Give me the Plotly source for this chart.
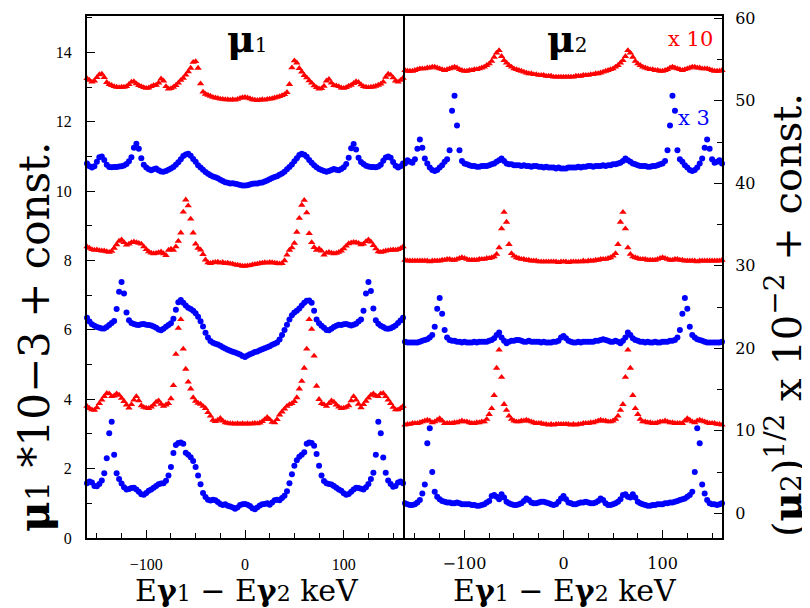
import plotly.graph_objects as go

# ---------------- data ----------------
energy_neg = [-160, -157.5, -155, -152.5, -150, -147.5, -145, -142.5, -140, -137.5,
              -135, -132.5, -130, -127.5, -125, -122.5, -120, -117.5, -115, -112.5,
              -110, -107.5, -105, -102.5, -100, -97.5, -95, -92.5, -90, -87.5,
              -85, -82.5, -80, -77.5, -75, -72.5, -70, -67.5, -65, -62.5,
              -60, -57.5, -55, -52.5, -50, -47.5, -45, -42.5, -40, -37.5,
              -35, -32.5, -30, -27.5, -25, -22.5, -20, -17.5, -15, -12.5,
              -10, -7.5, -5, -2.5, 0]
energy_pos = [2.5, 5, 7.5, 10, 12.5, 15, 17.5, 20, 22.5, 25,
              27.5, 30, 32.5, 35, 37.5, 40, 42.5, 45, 47.5, 50,
              52.5, 55, 57.5, 60, 62.5, 65, 67.5, 70, 72.5, 75,
              77.5, 80, 82.5, 85, 87.5, 90, 92.5, 95, 97.5, 100,
              102.5, 105, 107.5, 110, 112.5, 115, 117.5, 120, 122.5, 125,
              127.5, 130, 132.5, 135, 137.5, 140, 142.5, 145, 147.5, 150,
              152.5, 155, 157.5, 160]
energy = energy_neg + energy_pos

# ---- left panel (mu1 * 10^-3 + const.) ----
mu1_red_top = [13.25, 13.20, 13.15, 13.18, 13.28, 13.36, 13.38, 13.28, 13.14, 13.08,
               13.05, 13.02, 13.00, 12.99, 13.00, 13.00, 13.02, 13.08, 13.15, 13.16,
               13.10, 13.05, 13.02, 12.99, 12.97, 12.98, 13.02, 13.05, 13.06, 13.12,
               13.24, 13.18, 13.02, 12.95, 12.96, 13.00, 13.05, 13.12, 13.20, 13.26,
               13.35, 13.45, 13.55, 13.72, 13.74, 13.55, 13.10, 12.86, 12.80, 12.77,
               12.74, 12.71, 12.69, 12.68, 12.66, 12.65, 12.64, 12.64, 12.63, 12.64,
               12.63, 12.65, 12.68, 12.70, 12.71,
               12.69, 12.67, 12.64, 12.63, 12.62, 12.63, 12.64, 12.63, 12.65, 12.66,
               12.67, 12.69, 12.71, 12.73, 12.76, 12.79, 12.85, 13.08, 13.56, 13.76,
               13.70, 13.54, 13.44, 13.34, 13.27, 13.19, 13.12, 13.04, 12.99, 12.95,
               12.96, 13.03, 13.18, 13.23, 13.12, 13.05, 13.04, 13.02, 12.98, 12.97,
               12.99, 13.03, 13.06, 13.11, 13.16, 13.14, 13.07, 13.02, 13.00, 12.99,
               13.00, 13.01, 13.03, 13.06, 13.09, 13.15, 13.29, 13.38, 13.35, 13.27,
               13.18, 13.15, 13.20, 13.26]
mu1_blue_top = [10.80, 10.72, 10.68, 10.72, 10.85, 10.98, 11.00, 10.90, 10.76, 10.70,
                10.69, 10.70, 10.70, 10.71, 10.72, 10.74, 10.78, 10.86, 10.98, 11.25,
                11.37, 11.22, 10.95, 10.76, 10.68, 10.63, 10.60, 10.63, 10.65, 10.60,
                10.57, 10.56, 10.58, 10.62, 10.65, 10.70, 10.76, 10.83, 10.92, 11.01,
                11.06, 11.08, 11.02, 10.93, 10.85, 10.75, 10.68, 10.62, 10.55, 10.50,
                10.46, 10.42, 10.40, 10.37, 10.33, 10.29, 10.26, 10.24, 10.22, 10.23,
                10.21, 10.20, 10.18, 10.16, 10.16,
                10.17, 10.19, 10.21, 10.22, 10.22, 10.24, 10.25, 10.28, 10.31, 10.34,
                10.38, 10.41, 10.43, 10.47, 10.51, 10.56, 10.63, 10.70, 10.77, 10.86,
                10.95, 11.04, 11.08, 11.05, 10.99, 10.90, 10.82, 10.75, 10.69, 10.64,
                10.61, 10.58, 10.56, 10.58, 10.61, 10.64, 10.62, 10.60, 10.64, 10.69,
                10.78, 10.96, 11.24, 11.36, 11.20, 10.96, 10.84, 10.78, 10.73, 10.71,
                10.70, 10.70, 10.69, 10.71, 10.76, 10.88, 10.97, 11.00, 10.96, 10.84,
                10.73, 10.68, 10.72, 10.80]
mu1_red_mid = [8.40, 8.36, 8.32, 8.30, 8.31, 8.29, 8.28, 8.28, 8.26, 8.24,
               8.27, 8.36, 8.46, 8.56, 8.60, 8.52, 8.45, 8.48, 8.52, 8.54,
               8.52, 8.50, 8.48, 8.40, 8.32, 8.26, 8.22, 8.20, 8.21, 8.23,
               8.25, 8.20, 8.15, 8.30, 8.33, 8.30, 8.40, 8.56, 8.80, 9.40,
               9.75, 9.58, 9.20, 8.80, 8.48, 8.36, 8.31, 8.18, 8.02, 7.94,
               7.92, 7.94, 7.95, 7.96, 7.93, 7.95, 7.92, 7.93, 7.91, 7.90,
               7.88, 7.87, 7.86, 7.84, 7.84,
               7.85, 7.86, 7.88, 7.89, 7.90, 7.92, 7.93, 7.94, 7.93, 7.95,
               7.94, 7.93, 7.92, 7.91, 7.92, 8.00, 8.16, 8.30, 8.37, 8.50,
               8.82, 9.22, 9.60, 9.74, 9.38, 8.78, 8.52, 8.38, 8.30, 8.34,
               8.28, 8.16, 8.22, 8.24, 8.22, 8.20, 8.21, 8.24, 8.28, 8.34,
               8.42, 8.49, 8.51, 8.53, 8.52, 8.50, 8.46, 8.48, 8.55, 8.60,
               8.54, 8.44, 8.34, 8.26, 8.24, 8.26, 8.28, 8.29, 8.30, 8.31,
               8.30, 8.32, 8.35, 8.40]
mu1_blue_mid = [6.35, 6.24, 6.16, 6.12, 6.08, 6.06, 6.04, 6.04, 6.08, 6.14,
                6.20, 6.26, 6.60, 7.10, 7.38, 7.05, 6.50, 6.28, 6.20, 6.17,
                6.15, 6.14, 6.16, 6.17, 6.15, 6.14, 6.13, 6.10, 6.06, 6.01,
                5.99, 6.03, 6.09, 6.14, 6.19, 6.32, 6.58, 6.80, 6.86, 6.78,
                6.70, 6.64, 6.60, 6.55, 6.48, 6.38, 6.25, 6.10, 5.92, 5.78,
                5.68, 5.63, 5.60, 5.58, 5.54, 5.50, 5.46, 5.43, 5.40, 5.37,
                5.35, 5.32, 5.29, 5.25, 5.22,
                5.26, 5.30, 5.33, 5.36, 5.38, 5.41, 5.44, 5.47, 5.50, 5.53,
                5.57, 5.60, 5.64, 5.72, 5.85, 6.00, 6.15, 6.30, 6.42, 6.50,
                6.55, 6.62, 6.70, 6.78, 6.84, 6.85, 6.78, 6.55, 6.30, 6.19,
                6.12, 6.06, 6.00, 5.99, 6.03, 6.08, 6.12, 6.15, 6.14, 6.16,
                6.17, 6.15, 6.13, 6.15, 6.18, 6.24, 6.30, 6.55, 7.05, 7.38,
                7.12, 6.62, 6.28, 6.18, 6.12, 6.08, 6.04, 6.03, 6.05, 6.08,
                6.13, 6.20, 6.27, 6.35]
mu1_red_low = [3.80, 3.74, 3.70, 3.69, 3.76, 3.88, 3.98, 4.08, 4.17, 4.16,
               4.08, 4.10, 4.16, 4.12, 4.03, 3.94, 3.84, 3.75, 3.85, 3.98,
               4.08, 3.96, 3.82, 3.77, 3.75, 3.74, 3.78, 3.84, 3.92, 3.96,
               3.86, 3.80, 3.84, 3.88, 4.02, 4.40, 5.30, 6.05, 6.30, 5.45,
               4.87, 4.50, 4.30, 4.05, 3.95, 3.89, 3.86, 3.80, 3.74, 3.62,
               3.52, 3.40, 3.36, 3.40, 3.45, 3.38, 3.33, 3.31, 3.30, 3.30,
               3.29, 3.30, 3.29, 3.30, 3.29,
               3.30, 3.29, 3.30, 3.31, 3.30, 3.32, 3.36, 3.42, 3.48, 3.42,
               3.34, 3.33, 3.42, 3.55, 3.64, 3.72, 3.80, 3.85, 3.88, 3.94,
               4.05, 4.30, 4.52, 4.90, 5.45, 6.30, 6.02, 5.25, 4.38, 4.00,
               3.88, 3.85, 3.80, 3.88, 3.96, 3.92, 3.84, 3.78, 3.74, 3.75,
               3.77, 3.82, 3.96, 4.08, 3.98, 3.86, 3.76, 3.85, 3.95, 4.04,
               4.12, 4.16, 4.10, 4.08, 4.16, 4.17, 4.08, 3.98, 3.88, 3.77,
               3.70, 3.70, 3.74, 3.80]
mu1_blue_low = [1.58, 1.63, 1.60, 1.50, 1.49, 1.56, 1.66, 1.87, 2.30, 3.02,
                3.35, 2.40, 1.87, 1.70, 1.57, 1.46, 1.40, 1.41, 1.44, 1.45,
                1.40, 1.33, 1.26, 1.25, 1.30, 1.36, 1.40, 1.45, 1.50, 1.55,
                1.57, 1.58, 1.65, 1.80, 2.05, 2.45, 2.68, 2.74, 2.75, 2.72,
                2.46, 2.40, 2.33, 2.22, 2.05, 1.80, 1.55, 1.30, 1.18, 1.10,
                1.08, 1.10, 1.09, 1.04, 0.98, 0.95, 0.97, 0.93, 0.91, 0.88,
                0.84, 0.88, 0.95, 0.97, 0.98,
                0.96, 0.92, 0.86, 0.83, 0.88, 0.94, 0.97, 0.98, 1.00, 0.96,
                1.02, 1.09, 1.10, 1.09, 1.15, 1.22, 1.35, 1.58, 1.84, 2.08,
                2.24, 2.34, 2.40, 2.47, 2.72, 2.75, 2.74, 2.66, 2.42, 2.08,
                1.80, 1.64, 1.58, 1.56, 1.54, 1.50, 1.45, 1.40, 1.36, 1.29,
                1.25, 1.27, 1.33, 1.40, 1.45, 1.44, 1.42, 1.40, 1.46, 1.56,
                1.70, 1.88, 2.40, 3.35, 3.02, 2.32, 1.88, 1.66, 1.56, 1.48,
                1.50, 1.60, 1.63, 1.58]

# ---- right panel ((mu2)^1/2 x 10^-2 + const.) ----
mu2_red_top = [53.7, 53.6, 53.6, 53.6, 53.7, 53.8, 53.9, 53.9, 53.9, 54.0,
               54.0, 54.1, 54.1, 54.0, 53.9, 53.8, 53.7, 53.8, 53.9, 54.0,
               54.1, 54.0, 53.8, 53.7, 53.6, 53.6, 53.7, 53.7, 53.8, 53.8,
               53.9, 54.0, 54.1, 54.3, 54.5, 54.8, 55.3, 55.8, 56.1, 55.4,
               54.9, 54.6, 54.3, 54.1, 53.9, 53.8, 53.7, 53.6, 53.5, 53.4,
               53.3, 53.3, 53.2, 53.2, 53.1, 53.1, 53.1, 53.0, 53.0, 53.0,
               52.9, 52.9, 52.9, 52.9, 52.9,
               52.9, 52.9, 52.9, 52.9, 53.0, 53.0, 53.0, 53.1, 53.1, 53.1,
               53.2, 53.2, 53.3, 53.3, 53.4, 53.5, 53.6, 53.7, 53.8, 53.9,
               54.1, 54.3, 54.6, 54.9, 55.4, 56.1, 55.8, 55.3, 54.8, 54.5,
               54.3, 54.1, 54.0, 53.9, 53.8, 53.8, 53.7, 53.7, 53.6, 53.6,
               53.7, 53.8, 54.0, 54.1, 54.0, 53.9, 53.8, 53.7, 53.8, 53.9,
               54.0, 54.1, 54.1, 54.0, 54.0, 53.9, 53.9, 53.9, 53.8, 53.7,
               53.6, 53.6, 53.6, 53.7]
mu2_blue_top = [42.4, 42.8, 42.6, 42.5, 42.9, 44.2, 45.3, 44.3, 43.0, 42.4,
                41.9, 41.6, 41.5, 41.6, 41.9, 42.2, 42.6, 42.9, 44.0, 48.8,
                50.6, 47.0, 44.0, 42.7, 42.4, 42.3, 42.2, 42.1, 42.1, 42.0,
                42.0, 42.1, 42.1, 42.1, 42.2, 42.3, 42.4, 42.6, 42.8, 43.0,
                42.7, 42.4, 42.3, 42.3, 42.2, 42.2, 42.2, 42.1, 42.2, 42.1,
                42.1, 42.0, 42.1, 42.1, 42.0, 42.0, 41.9, 42.0, 41.9, 41.9,
                41.9, 41.8, 41.9, 41.8, 41.8,
                41.8, 41.9, 41.9, 41.9, 41.9, 42.0, 41.9, 42.0, 42.0, 42.1,
                42.1, 42.0, 42.1, 42.1, 42.1, 42.2, 42.1, 42.2, 42.2, 42.3,
                42.3, 42.4, 42.5, 42.7, 43.0, 42.8, 42.6, 42.4, 42.3, 42.2,
                42.1, 42.1, 42.1, 42.0, 42.0, 42.1, 42.1, 42.2, 42.3, 42.4,
                42.7, 44.0, 47.0, 50.6, 48.8, 44.0, 42.9, 42.6, 42.2, 41.9,
                41.6, 41.5, 41.6, 41.9, 42.4, 43.0, 44.3, 45.3, 44.2, 42.9,
                42.5, 42.6, 42.8, 42.4]
mu2_red_mid = [30.7, 30.6, 30.6, 30.6, 30.6, 30.6, 30.6, 30.6, 30.6, 30.6,
               30.5, 30.6, 30.6, 30.6, 30.6, 30.7, 30.7, 30.8, 30.8, 30.7,
               30.7, 30.8, 30.9, 31.0, 30.9, 30.8, 30.7, 30.7, 30.7, 30.7,
               30.8, 30.8, 30.8, 30.9, 30.9, 31.0, 31.1, 31.4, 32.2, 34.5,
               36.5, 35.3, 32.6, 31.5, 31.2, 31.0, 30.9, 30.8, 30.8, 30.7,
               30.7, 30.6, 30.6, 30.6, 30.5, 30.5, 30.5, 30.5, 30.5, 30.5,
               30.5, 30.5, 30.4, 30.5, 30.5,
               30.5, 30.4, 30.5, 30.5, 30.5, 30.5, 30.5, 30.6, 30.5, 30.6,
               30.6, 30.6, 30.7, 30.7, 30.8, 30.8, 30.8, 30.9, 31.0, 31.2,
               31.5, 32.6, 35.3, 36.5, 34.5, 32.2, 31.4, 31.1, 31.0, 30.9,
               30.8, 30.8, 30.8, 30.7, 30.7, 30.7, 30.7, 30.8, 30.9, 31.0,
               30.9, 30.8, 30.7, 30.7, 30.8, 30.8, 30.7, 30.7, 30.6, 30.6,
               30.6, 30.6, 30.6, 30.5, 30.6, 30.6, 30.6, 30.6, 30.6, 30.6,
               30.6, 30.6, 30.6, 30.7]
mu2_blue_mid = [20.8, 20.7, 20.7, 20.7, 20.7, 20.7, 20.8, 20.9, 21.0, 21.1,
                21.3, 21.6, 22.6, 24.8, 26.1, 24.2, 22.2, 21.3, 21.0, 20.9,
                20.9, 20.8, 20.8, 20.7, 20.8, 20.7, 20.7, 20.7, 20.8, 20.7,
                20.8, 20.8, 20.8, 20.8, 20.9, 21.0, 21.2, 21.6, 21.9, 21.3,
                20.9, 20.6, 20.8, 20.9, 20.9, 21.0, 21.0, 20.9, 20.8, 20.8,
                20.9, 20.8, 20.8, 20.8, 20.8, 20.7, 20.8, 20.7, 20.7, 20.7,
                20.8, 20.8, 20.9, 21.3, 21.5,
                21.2, 20.9, 20.8, 20.7, 20.7, 20.8, 20.7, 20.8, 20.8, 20.8,
                20.8, 20.8, 20.9, 20.9, 21.0, 21.1, 21.0, 20.9, 20.8, 20.8,
                20.9, 20.8, 20.6, 20.9, 21.3, 21.9, 21.6, 21.2, 21.0, 20.9,
                20.8, 20.8, 20.7, 20.8, 20.7, 20.7, 20.8, 20.7, 20.7, 20.8,
                20.8, 20.8, 20.9, 20.9, 21.0, 21.3, 22.2, 24.2, 26.1, 24.8,
                22.6, 21.6, 21.3, 21.1, 21.0, 20.9, 20.8, 20.7, 20.7, 20.7,
                20.7, 20.7, 20.7, 20.8]
mu2_red_low = [10.7, 10.8, 10.8, 10.9, 10.9, 10.9, 11.0, 11.1, 11.2, 11.3,
               11.2, 11.0, 11.1, 11.3, 11.5, 11.2, 10.9, 10.9, 10.9, 10.9,
               11.0, 11.0, 11.1, 11.2, 11.1, 11.1, 11.0, 10.9, 10.9, 11.0,
               11.0, 11.1, 11.1, 11.4, 12.0, 12.7, 14.3, 17.6, 19.8, 16.5,
               13.2, 12.5, 11.8, 11.4, 11.2, 11.1, 11.1, 11.2, 11.2, 11.3,
               11.2, 11.1, 11.0, 10.9, 10.9, 10.9, 10.8, 10.8, 10.7, 10.8,
               10.7, 10.8, 10.8, 10.8, 10.8,
               10.8, 10.8, 10.7, 10.8, 10.7, 10.8, 10.8, 10.9, 10.9, 10.9,
               11.0, 11.0, 11.1, 11.2, 11.3, 11.2, 11.2, 11.1, 11.1, 11.2,
               11.4, 11.8, 12.5, 13.2, 16.5, 19.8, 17.6, 14.3, 12.7, 12.0,
               11.4, 11.1, 11.1, 11.0, 11.0, 10.9, 10.9, 11.0, 11.1, 11.1,
               11.2, 11.1, 11.0, 11.0, 10.9, 10.9, 10.9, 10.9, 11.2, 11.5,
               11.3, 11.1, 11.0, 11.2, 11.3, 11.2, 11.1, 11.0, 10.9, 10.9,
               10.9, 10.8, 10.8, 10.7]
mu2_blue_low = [1.2, 1.1, 1.0, 1.0, 1.1, 1.3, 1.6, 2.4, 3.5, 8.5,
                10.3, 5.0, 2.6, 2.0, 1.7, 1.5, 1.4, 1.3, 1.3, 1.2,
                1.2, 1.3, 1.2, 1.1, 1.1, 1.1, 1.1, 1.0, 1.0, 0.9,
                0.9, 1.0, 1.1, 1.3, 1.5, 2.1, 2.2, 2.0, 1.7, 2.3,
                1.9, 1.4, 1.2, 1.1, 1.0, 1.0, 1.1, 1.2, 1.5, 1.8,
                1.6, 1.3, 1.2, 1.2, 1.3, 1.4, 1.4, 1.3, 1.2, 1.1,
                1.0, 1.1, 1.4, 1.8, 2.1,
                1.7, 1.3, 1.2, 1.1, 1.1, 1.2, 1.3, 1.3, 1.4, 1.3,
                1.2, 1.2, 1.3, 1.5, 1.8, 1.6, 1.2, 1.0, 1.0, 1.1,
                1.2, 1.4, 1.7, 2.2, 2.3, 2.0, 1.9, 2.3, 1.9, 1.4,
                1.2, 1.1, 1.0, 0.9, 0.9, 1.0, 1.0, 1.1, 1.1, 1.1,
                1.2, 1.2, 1.3, 1.3, 1.4, 1.5, 1.6, 1.7, 1.8, 2.0,
                2.2, 2.6, 5.0, 10.3, 8.5, 3.5, 2.4, 1.6, 1.2, 1.1,
                1.1, 1.0, 1.1, 1.2]

left_series = [mu1_red_top, mu1_blue_top, mu1_red_mid, mu1_blue_mid, mu1_red_low, mu1_blue_low]
right_series = [mu2_red_top, mu2_blue_top, mu2_red_mid, mu2_blue_mid, mu2_red_low, mu2_blue_low]
for s in left_series + right_series:
    assert len(s) == len(energy), len(s)

RED = "#ff0000"
BLUE = "#0000ff"
styles = [("triangle-up", RED, 6.5), ("circle", BLUE, 6)] * 3

# ---------------- figure ----------------
# The page body adds an 8 px offset, so the figure is 802x600 and
# page coordinates are converted with that offset.
OFF = 8
W, H = 802, 600
PL, PT, PR, PB = 87, 16, 722, 538          # plot area in page pixels
ML, MT = PL - OFF, PT - OFF
PW, PH = PR - PL, PB - PT
MR, MB = W - ML - PW, H - MT - PH


def px(x):
    return (x - PL) / PW


def py(y):
    return (PB - y) / PH


fig = go.Figure()
for vals, (sym, col, sz) in zip(left_series, styles):
    fig.add_trace(go.Scatter(x=energy, y=vals, mode="markers", xaxis="x", yaxis="y",
                             marker=dict(symbol=sym, color=col, size=sz, line=dict(width=0)),
                             cliponaxis=False, showlegend=False, hoverinfo="skip"))
for vals, (sym, col, sz) in zip(right_series, styles):
    fig.add_trace(go.Scatter(x=energy, y=vals, mode="markers", xaxis="x2", yaxis="y2",
                             marker=dict(symbol=sym, color=col, size=sz, line=dict(width=0)),
                             cliponaxis=False, showlegend=False, hoverinfo="skip"))

# the two panels share one 2 px border at x = 404
left_end = px(403)
right_start = px(405)
axis_common = dict(showline=True, linewidth=2, linecolor="black", mirror=True,
                   ticks="inside", ticklen=8, tickwidth=1.3, tickcolor="black",
                   showgrid=False, zeroline=False, automargin=False)
tick_font_l = dict(family="Liberation Serif", size=16, color="black")
tick_font_r = dict(family="DejaVu Serif", size=16, color="black")

fig.update_layout(
    width=W, height=H, autosize=False,
    margin=dict(l=ML, r=MR, t=MT, b=MB, pad=0),
    paper_bgcolor="white", plot_bgcolor="white",
    font=dict(family="Liberation Serif", color="black"),
    xaxis=dict(domain=[0, left_end], range=[-160, 160], anchor="y", dtick=100, tick0=0,
               minor=dict(dtick=25, ticks="inside", ticklen=5, tickcolor="black", showgrid=False),
               tickfont=tick_font_l, ticklabelstandoff=11, **axis_common),
    yaxis=dict(domain=[0, 1], range=[0, 15.05], anchor="x", dtick=2, tick0=0,
               minor=dict(dtick=1, ticks="inside", ticklen=5, tickcolor="black", showgrid=False),
               tickfont=tick_font_l, ticklabelstandoff=10, **axis_common),
    xaxis2=dict(domain=[right_start, 1], range=[-160, 160], anchor="y2", dtick=100, tick0=0,
                minor=dict(dtick=25, ticks="inside", ticklen=5, tickcolor="black", showgrid=False),
                tickfont=tick_font_r, ticklabelstandoff=10, **axis_common),
    yaxis2=dict(domain=[0, 1], range=[-3, 60.28], anchor="x2", side="right", dtick=10, tick0=0,
                minor=dict(dtick=5, ticks="inside", ticklen=5, tickcolor="black", showgrid=False),
                tickfont=tick_font_r, ticklabelstandoff=8, **axis_common),
)

serif = "DejaVu Serif"
xtitle = ("E<b>γ</b><span style='font-size:22px'>1</span> − "
          "E<b>γ</b><span style='font-size:22px'>2</span> keV")
ann = [
    dict(text="<b>μ</b><span style='font-size:20px'>1</span>", x=px(247), y=py(38),
         font=dict(family=serif, size=38, color="black")),
    dict(text="<b>μ</b><span style='font-size:20px'>2</span>", x=px(567), y=py(38),
         font=dict(family=serif, size=38, color="black")),
    dict(text="x 10", x=px(690), y=py(39), font=dict(family=serif, size=21, color=RED)),
    dict(text="x 3", x=px(694), y=py(118), font=dict(family=serif, size=21, color=BLUE)),
    dict(text=xtitle, x=px(247), y=py(590), font=dict(family=serif, size=30, color="black")),
    dict(text=xtitle, x=px(565), y=py(590), font=dict(family=serif, size=30, color="black")),
    dict(text="<b>μ</b><span style='font-size:32px'>1</span> *10−3 + const.", x=px(34), y=py(337),
         textangle=-90, font=dict(family=serif, size=42, color="black")),
    dict(text="(<b>μ</b><span style='font-size:28px'>2</span>)<sup>1/2</sup> x 10<sup>−2</sup> + const.",
         x=px(784), y=py(315), textangle=-90, font=dict(family=serif, size=40, color="black")),
]
for a in ann:
    fig.add_annotation(xref="paper", yref="paper", xanchor="center", yanchor="middle",
                       showarrow=False, **a)

fig.write_html("out.html")
